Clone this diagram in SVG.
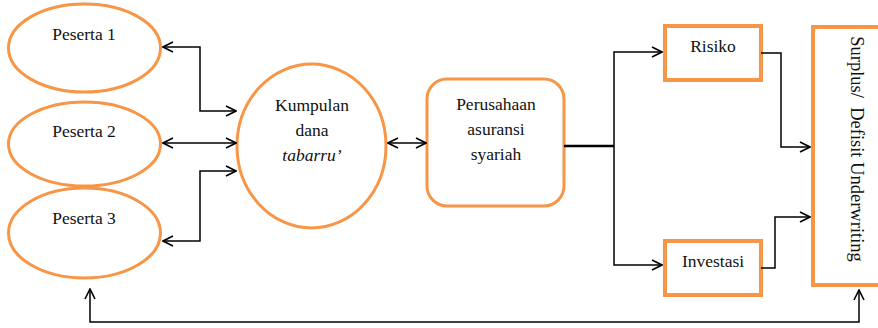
<svg xmlns="http://www.w3.org/2000/svg" width="878" height="328" viewBox="0 0 878 328">
<defs>
<marker id="ah" viewBox="0 0 12 12" refX="11" refY="6" markerWidth="12" markerHeight="12" markerUnits="userSpaceOnUse" orient="auto-start-reverse">
<path d="M1,1 L11,6 L1,11" fill="none" stroke="#000" stroke-width="1.6"/>
</marker>
</defs>
<style>
.n{fill:#fff;stroke:#F79646;stroke-width:3}
.b{fill:#fff;stroke:#F79646;stroke-width:4}
text{font-family:'Liberation Serif','Times New Roman','DejaVu Serif',serif;font-size:17.5px;fill:#111;text-anchor:middle}
text.big{font-size:18.5px}
.c{fill:none;stroke:#000;stroke-width:1.5}
</style>
<g id="peserta1"><ellipse class="n" cx="84.5" cy="48" rx="76" ry="44"/><text x="84" y="40">Peserta 1</text></g>
<g id="peserta2"><ellipse class="n" cx="84.5" cy="144" rx="76" ry="42"/><text x="84" y="137">Peserta 2</text></g>
<g id="peserta3"><ellipse class="n" cx="84.5" cy="233" rx="76" ry="45"/><text x="84" y="224">Peserta 3</text></g>
<g id="kumpulan"><ellipse class="n" cx="311.5" cy="146" rx="74.5" ry="82"/><text x="312" y="111">Kumpulan</text><text x="312" y="136">dana</text><text x="312" y="161" font-style="italic">tabarru’</text></g>
<g id="perusahaan"><rect class="n" x="427" y="79" width="137" height="127" rx="20"/><text x="496" y="110">Perusahaan</text><text x="496" y="135">asuransi</text><text x="496" y="160">syariah</text></g>
<g id="risiko"><rect class="b" x="665" y="26" width="96" height="54"/><text x="713" y="52">Risiko</text></g>
<g id="investasi"><rect class="b" x="665" y="241" width="96" height="54"/><text x="713" y="267">Investasi</text></g>
<g id="surplus"><rect class="b" x="813" y="27" width="80" height="258"/><text class="big" transform="translate(851,149) rotate(90)" x="0" y="0" xml:space="preserve">Surplus/  Defisit Underwriting</text></g>
<g id="connectors">
<path class="c" d="M163,47 H200 V111 H236" marker-start="url(#ah)" marker-end="url(#ah)"/>
<path class="c" d="M163,143 H236" marker-start="url(#ah)" marker-end="url(#ah)"/>
<path class="c" d="M163,241 H200 V171 H236" marker-start="url(#ah)" marker-end="url(#ah)"/>
<path class="c" d="M388,143 H426" marker-start="url(#ah)" marker-end="url(#ah)"/>
<path fill="none" stroke="#000" stroke-width="2.5" d="M564,146 H614"/>
<path class="c" d="M614,146 V52 H662" marker-end="url(#ah)"/>
<path class="c" d="M614,146 V265 H662" marker-end="url(#ah)"/>
<path class="c" d="M761,53 H781 V147 H810" marker-end="url(#ah)"/>
<path class="c" d="M761,268 H775 V217 H810" marker-end="url(#ah)"/>
<path class="c" d="M90,289 V322 H859 V290" marker-start="url(#ah)" marker-end="url(#ah)"/>
</g>
</svg>
